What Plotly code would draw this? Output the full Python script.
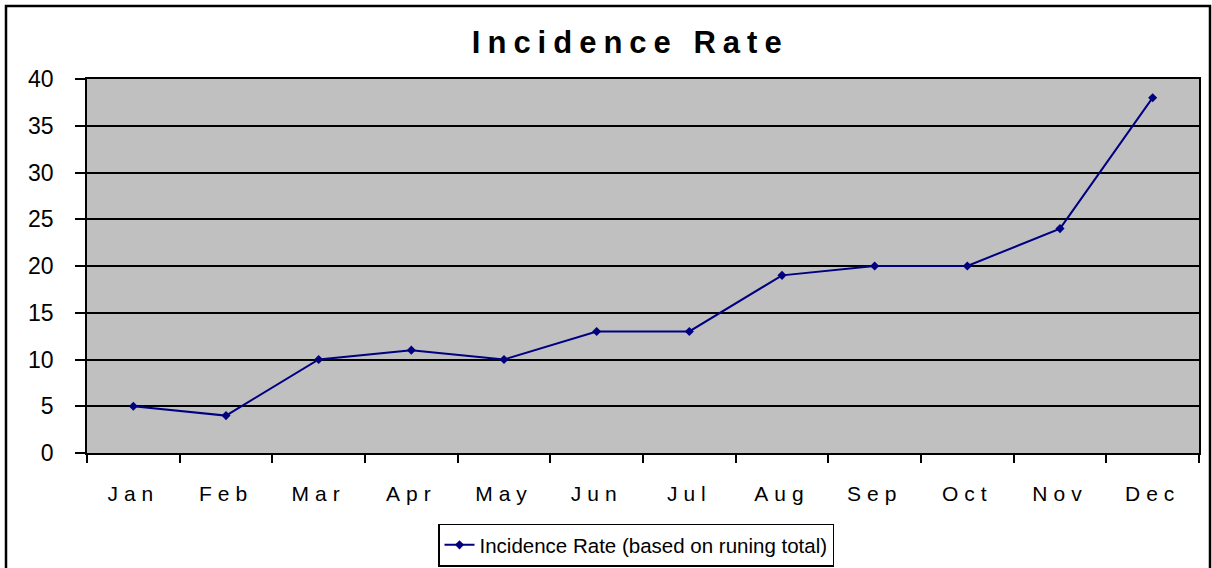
import plotly.graph_objects as go

months = ["Jan", "Feb", "Mar", "Apr", "May", "Jun", "Jul", "Aug", "Sep", "Oct", "Nov", "Dec"]
incidence = [5, 4, 10, 11, 10, 13, 13, 19, 20, 20, 24, 38]
series_name = "Incidence Rate (based on runing total)"
y_ticks = [0, 5, 10, 15, 20, 25, 30, 35, 40]

FONT = "Liberation Sans, Arial, sans-serif"
NAVY = "#000080"

fig = go.Figure()
fig.add_trace(go.Scatter(
    x=months, y=incidence, name=series_name, mode="lines+markers",
    line=dict(color=NAVY, width=2),
    marker=dict(symbol="diamond", size=7, color=NAVY),
))

W, H = 1212, 568
L, R, T, B = 87, 13, 79, 115
pw = W - L - R
ph = H - T - B

def px_x(x):
    return (x - L) / pw

def px_y(y):
    return (H - B - y) / ph

fig.update_layout(
    width=W, height=H,
    margin=dict(l=L, r=R, t=T, b=B, autoexpand=False),
    paper_bgcolor="white",
    plot_bgcolor="#C0C0C0",
    font=dict(family=FONT, color="black"),
    title=dict(text="<b>Incidence Rate</b>", x=0.52, xanchor="center",
               y=1 - 42 / H, yref="container", yanchor="middle",
               font=dict(size=31, family=FONT, color="black")),
    showlegend=True,
    legend=dict(x=636 / W, xref="container", xanchor="center",
                y=1 - 545 / H, yref="container", yanchor="middle",
                orientation="h", bordercolor="black", borderwidth=1.5,
                bgcolor="white", font=dict(size=20.5, family=FONT)),
    xaxis=dict(type="category", showgrid=False, ticks="outside", tickson="boundaries",
               ticklen=8, tickwidth=1.5, tickcolor="black", automargin=False,
               showline=True, linecolor="black", linewidth=1.5, mirror=True,
               tickfont=dict(size=21, family=FONT), ticklabelstandoff=21,
               range=[-0.5, 11.5]),
    yaxis=dict(range=[0, 40], tickvals=y_ticks, showgrid=True, gridcolor="black", gridwidth=1.5,
               zeroline=False, ticks="outside", ticklen=10, tickwidth=1.5, tickcolor="black",
               automargin=False,
               showline=True, linecolor="black", linewidth=1.5, mirror=True,
               tickfont=dict(size=23, family=FONT), ticklabelstandoff=17),
)

fig.add_shape(type="rect", xref="paper", yref="paper",
              x0=px_x(6), x1=px_x(1210), y0=px_y(590), y1=px_y(6),
              line=dict(color="black", width=2.5), fillcolor="rgba(0,0,0,0)", layer="above")

post = """
document.body.style.margin = '0';
document.body.style.padding = '0';
var gd = document.getElementById('{plot_id}');
function ls(){
  gd.querySelectorAll('.xtick text').forEach(function(t){t.style.letterSpacing='6px';});
  gd.querySelectorAll('.gtitle').forEach(function(t){t.style.letterSpacing='7px';});
}
ls();
gd.on('plotly_afterplot', ls);
"""
fig.write_html("out.html", post_script=post, config={"displayModeBar": False})
